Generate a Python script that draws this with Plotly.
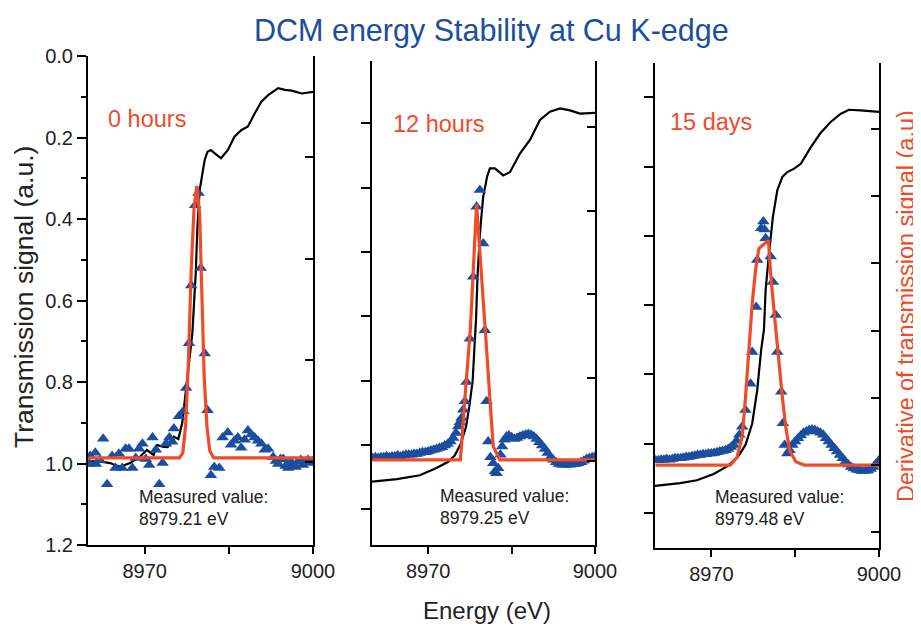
import plotly.graph_objects as go

# ---------------- data ----------------
# Panel 1: 0 hours
p1_t_e = [8960.0, 8960.3, 8962.0, 8963.8, 8965.6, 8967.4, 8969.2, 8970.4, 8971.6, 8972.2, 8973.4, 8974.1,
          8975.2, 8976.0, 8976.7, 8977.9, 8978.5, 8979.1, 8979.4, 8979.8, 8980.3, 8980.7, 8981.2, 8981.8,
          8982.6, 8983.6, 8984.8, 8986.0, 8987.2, 8988.4, 8989.6, 8990.8, 8992.0, 8993.8, 8995.0, 8996.2,
          8998.0, 9000.0]
p1_t_v = [0.99, 0.995, 0.995, 0.999, 1.008, 0.999, 0.983, 0.967, 0.979, 0.955, 0.959, 0.96,
          0.934, 0.94, 0.90, 0.754, 0.68, 0.533, 0.42, 0.329, 0.284, 0.255, 0.235, 0.231,
          0.24, 0.251, 0.231, 0.198, 0.182, 0.173, 0.141, 0.112, 0.096, 0.079, 0.083, 0.085,
          0.092, 0.088]
p1_d_e = [8960.2, 8960.3, 8961.2, 8961.3, 8962.0, 8962.6, 8963.3, 8964.2, 8964.8, 8965.4, 8966.0, 8966.6,
          8967.2, 8967.8, 8968.4, 8969.0, 8969.6, 8970.2, 8970.8, 8971.4, 8972.0, 8972.6, 8973.2, 8973.8,
          8974.4, 8974.9, 8975.2, 8976.1, 8976.9, 8977.4, 8977.9, 8978.3, 8979.0, 8979.6, 8980.0, 8980.7,
          8981.2, 8981.8, 8982.4, 8983.3, 8983.9, 8984.8, 8985.4, 8986.0, 8986.6, 8987.2, 8987.8, 8988.4,
          8989.0, 8989.6, 8990.2, 8990.8, 8991.4, 8992.0, 8992.9, 8993.4, 8993.8, 8994.2, 8994.7, 8995.1,
          8995.6, 8996.0, 8996.4, 8996.9, 8997.3, 8997.8, 8998.2, 8998.7, 8999.1, 8999.6, 9000.0]
p1_d_v = [-0.02, 0.06, 0.09, -0.02, 0.02, 0.23, -0.22, 0.06, -0.06, 0.08, -0.06, 0.13,
          0.13, -0.06, 0.04, 0.13, 0.18, 0.03, -0.03, 0.24, 0.12, -0.22, -0.01, 0.18,
          0.24, 0.20, 0.33, 0.45, 0.50, 0.73, 1.17, 1.74, 2.53, 2.65, 1.91, 1.07,
          0.51, -0.13, -0.05, -0.06, 0.24, 0.29, 0.17, 0.21, 0.24, 0.14, 0.22, 0.31,
          0.27, 0.24, 0.21, 0.18, 0.12, 0.13, 0.05, 0.01, -0.02, 0.03, 0.03, -0.04,
          -0.06, 0.0, -0.02, -0.05, 0.0, 0.02, -0.03, 0.0, 0.02, -0.01, 0.01]
p1_f_e = [8960.0, 8976.2, 8976.8, 8977.3, 8977.8, 8978.3, 8978.8, 8979.3, 8979.8, 8980.2, 8980.6, 8981.1,
          8981.6, 8982.3, 9000.0]
p1_f_v = [0.04, 0.04, 0.09, 0.36, 1.0, 1.9, 2.5, 2.72, 2.45, 1.6, 0.85, 0.35, 0.11, 0.04, 0.04]

# Panel 2: 12 hours
p2_t_e = [8959.9, 8964.4, 8968.5, 8971.4, 8973.6, 8974.8, 8975.9, 8976.8, 8977.4, 8978.0, 8978.3, 8978.6,
          8978.9, 8979.4, 8979.9, 8980.6, 8981.1, 8982.0, 8983.5, 8984.7, 8986.5, 8988.3, 8990.1, 8991.9,
          8993.7, 8995.5, 8997.3, 9000.0]
p2_t_v = [0.657, 0.653, 0.647, 0.636, 0.626, 0.616, 0.597, 0.572, 0.54, 0.50, 0.452, 0.406,
          0.333, 0.261, 0.214, 0.183, 0.170, 0.170, 0.181, 0.176, 0.147, 0.126, 0.095, 0.082,
          0.077, 0.080, 0.085, 0.084]
p2_d_e = [8960.0, 8960.5, 8961.0, 8961.5, 8962.0, 8962.5, 8963.0, 8963.5, 8964.0, 8964.5, 8965.0, 8965.5,
          8966.0, 8966.5, 8967.0, 8967.5, 8968.0, 8968.5, 8969.0, 8969.5, 8970.0, 8970.5, 8971.0, 8971.5,
          8972.0, 8972.5, 8973.0, 8973.5, 8974.0, 8974.5, 8975.0, 8975.4, 8975.7, 8976.0, 8976.3, 8976.6,
          8976.9, 8977.5, 8978.1, 8978.7, 8979.3, 8979.9, 8980.2, 8980.5, 8980.8, 8981.2, 8981.7, 8982.0,
          8982.3, 8982.6, 8983.0, 8983.3, 8983.7, 8984.1, 8984.5, 8985.0, 8985.5, 8986.0, 8986.5, 8987.0,
          8987.5, 8988.0, 8988.5, 8989.0, 8989.5, 8990.0, 8990.5, 8991.0, 8991.5, 8992.0, 8992.5, 8993.0,
          8993.5, 8994.0, 8994.5, 8995.0, 8995.5, 8996.0, 8996.5, 8997.0, 8997.5, 8998.0, 8998.5, 8999.0,
          8999.5, 9000.0]
p2_d_v = [0.04, 0.05, 0.04, 0.05, 0.05, 0.06, 0.05, 0.06, 0.06, 0.07, 0.06, 0.07,
          0.08, 0.08, 0.08, 0.09, 0.09, 0.10, 0.11, 0.11, 0.12, 0.13, 0.14, 0.15,
          0.16, 0.17, 0.19, 0.21, 0.24, 0.28, 0.34, 0.42, 0.47, 0.52, 0.62, 0.72,
          0.95, 1.47, 2.21, 3.05, 3.25, 2.61, 1.57, 0.72, 0.24, 0.05, -0.02, -0.12,
          -0.14, -0.08, 0.08, 0.18, 0.26, 0.30, 0.31, 0.29, 0.27, 0.28, 0.30, 0.31,
          0.32, 0.33, 0.32, 0.30, 0.27, 0.23, 0.19, 0.15, 0.10, 0.05, 0.02, -0.01,
          -0.03, -0.04, -0.04, -0.04, -0.04, -0.03, -0.03, -0.02, -0.01, 0.01, 0.03, 0.04,
          0.05, 0.06]
p2_f_e = [8960.0, 8975.8, 8976.6, 8977.6, 8978.7, 8979.5, 8980.4, 8981.1, 8981.7, 8982.9, 9000.0]
p2_f_v = [0.02, 0.02, 0.75, 1.6, 3.08, 2.35, 1.45, 0.75, 0.18, 0.02, 0.02]

# Panel 3: 15 days
p3_t_e = [8959.9, 8964.4, 8967.4, 8970.4, 8972.8, 8974.6, 8976.1, 8977.3, 8978.2, 8978.9, 8979.4, 8979.7,
          8980.3, 8981.0, 8981.8, 8982.7, 8983.6, 8984.8, 8986.0, 8987.8, 8989.5, 8991.3, 8993.1, 8994.6,
          8996.7, 9000.0]
p3_t_v = [0.661, 0.657, 0.653, 0.644, 0.633, 0.621, 0.602, 0.571, 0.523, 0.465, 0.436, 0.379,
          0.326, 0.273, 0.234, 0.215, 0.208, 0.203, 0.196, 0.172, 0.152, 0.136, 0.124, 0.118,
          0.119, 0.121]
p3_d_e = [8960.0, 8960.5, 8961.0, 8961.5, 8962.0, 8962.5, 8963.0, 8963.5, 8964.0, 8964.5, 8965.0, 8965.5,
          8966.0, 8966.5, 8967.0, 8967.5, 8968.0, 8968.5, 8969.0, 8969.5, 8970.0, 8970.5, 8971.0, 8971.5,
          8972.0, 8972.5, 8973.0, 8973.5, 8974.0, 8974.5, 8975.0, 8975.5, 8976.1, 8977.0, 8977.3, 8978.0,
          8978.2, 8978.9, 8979.3, 8979.5, 8979.7, 8980.6, 8981.0, 8981.5, 8981.8, 8982.5, 8982.8, 8983.1,
          8983.6, 8984.0, 8984.5, 8985.0, 8985.5, 8986.0, 8986.5, 8987.0, 8987.5, 8988.0, 8988.5, 8989.0,
          8989.5, 8990.0, 8990.5, 8991.0, 8991.5, 8992.0, 8992.5, 8993.0, 8993.5, 8994.0, 8994.5, 8995.0,
          8995.5, 8996.0, 8996.5, 8997.0, 8997.5, 8998.0, 8998.5, 8999.0, 8999.5, 9000.0]
p3_d_v = [0.07, 0.07, 0.08, 0.08, 0.09, 0.08, 0.09, 0.10, 0.10, 0.10, 0.11, 0.12,
          0.12, 0.13, 0.14, 0.15, 0.15, 0.16, 0.16, 0.17, 0.17, 0.18, 0.19, 0.20,
          0.21, 0.22, 0.24, 0.27, 0.30, 0.36, 0.45, 0.57, 0.82, 1.21, 1.68, 2.35,
          3.05, 3.52, 3.62, 3.50, 3.37, 3.10, 2.72, 2.23, 1.68, 1.09, 0.62, 0.30,
          0.17, 0.22, 0.30, 0.35, 0.40, 0.44, 0.48, 0.50, 0.52, 0.53, 0.52, 0.50,
          0.48, 0.45, 0.40, 0.35, 0.30, 0.25, 0.20, 0.15, 0.10, 0.05, 0.01, -0.03,
          -0.05, -0.07, -0.08, -0.09, -0.09, -0.08, -0.06, -0.03, 0.02, 0.07]
p3_f_e = [8960.0, 8973.4, 8974.6, 8975.5, 8976.1, 8976.7, 8977.3, 8977.9, 8978.5, 8980.2, 8980.6, 8981.2,
          8981.8, 8982.7, 8983.3, 8984.0, 8985.1, 8986.6, 9000.0]
p3_f_v = [0.0, 0.0, 0.12, 0.42, 1.0, 1.75, 2.4, 2.9, 3.22, 3.34, 2.85, 2.3,
          1.76, 1.01, 0.57, 0.22, 0.05, 0.0, 0.0]

panel_labels = ["0 hours", "12 hours", "15 days"]
measured = ["8979.21 eV", "8979.25 eV", "8979.48 eV"]
x_tickvals = [8970, 8985, 9000]
x_ticktext = ["8970", "", "9000"]
left_tickvals_p1 = [0.0, 0.2, 0.4, 0.6, 0.8, 1.0, 1.2]
left_ticktext_p1 = ["0.0", "0.2", "0.4", "0.6", "0.8", "1.0", "1.2"]

title_text = "DCM energy Stability at Cu K-edge"
xlabel = "Energy (eV)"
ylabel_left = "Transmission signal (a.u.)"
ylabel_right = "Derivative of transmission signal (a.u)"

# ---------------- styling ----------------
# The page body keeps its default 8px margin, so the figure is made 8px smaller
# and every position is given in window pixels and shifted by that margin.
OFF = 8
W, H = 921 - OFF, 626 - OFF
FONT = "Liberation Sans, Arial, sans-serif"
BLUE = "#1b4e9e"
RED = "#f04b28"
TXT = "#222222"


def fx(p):
    return (p - OFF) / W


def fy(p):
    return 1 - (p - OFF) / H


# pixel frames of each panel in window pixels: (left, right, top, bottom)
frames = [(88, 313, 56, 545), (372, 595, 61, 545), (655, 879, 63, 548)]
xrange_ = [8959.9, 9000]
left_ranges = [[1.2, 0.0], [0.7553, 0.0033], [0.7508, 0.0505]]
right_ranges = [[-0.818, 4.0], [-1.0, 4.794], [-1.233, 5.977]]

data = [
    (p1_t_e, p1_t_v, p1_d_e, p1_d_v, p1_f_e, p1_f_v),
    (p2_t_e, p2_t_v, p2_d_e, p2_d_v, p2_f_e, p2_f_v),
    (p3_t_e, p3_t_v, p3_d_e, p3_d_v, p3_f_e, p3_f_v),
]

fig = go.Figure()
layout = dict(
    template="none",
    width=W, height=H, autosize=False, margin=dict(l=0, r=0, t=0, b=0, pad=0, autoexpand=False),
    paper_bgcolor="white", plot_bgcolor="rgba(0,0,0,0)", showlegend=False,
    font=dict(family=FONT, color=TXT),
)

axis_common = dict(showline=True, linecolor="black", linewidth=2, showgrid=False, zeroline=False,
                   tickcolor="black", tickwidth=2, automargin=False)

annotations = []
for i in range(3):
    L, R, T, B = frames[i]
    xb = f"x{i + 1}"
    yl = f"y{2 * i + 1}"
    yr = f"y{2 * i + 2}"
    xkey = "xaxis" if i == 0 else f"xaxis{i + 1}"
    xtkey = f"xaxis{i + 4}"
    ylkey = "yaxis" if i == 0 else f"yaxis{2 * i + 1}"
    yrkey = f"yaxis{2 * i + 2}"
    xdom = [fx(L), fx(R)]
    ydom = [fy(B), fy(T)]

    layout[xkey] = dict(axis_common, domain=xdom, range=xrange_, anchor=yl, tickmode="array",
                        tickvals=x_tickvals, ticktext=x_ticktext, ticks="outside", ticklen=7,
                        tickfont=dict(size=20, color=TXT, family=FONT))
    layout[xtkey] = dict(axis_common, domain=xdom, range=xrange_, anchor=yl, overlaying=xb, side="top",
                         tickmode="array", tickvals=x_tickvals, ticks="inside", ticklen=10,
                         showticklabels=False)
    if i == 0:
        layout[ylkey] = dict(axis_common, domain=ydom, range=left_ranges[i], anchor=xb, side="left",
                             tickmode="array", tickvals=left_tickvals_p1, ticktext=left_ticktext_p1,
                             ticks="outside", ticklen=9,
                             minor=dict(tickmode="array", tickvals=[0.1, 0.3, 0.5, 0.7, 0.9, 1.1],
                                        ticks="outside", ticklen=5, tickcolor="black", tickwidth=2),
                             tickfont=dict(size=20, color=TXT, family=FONT))
    else:
        layout[ylkey] = dict(axis_common, domain=ydom, range=left_ranges[i], anchor=xb, side="left",
                             tickmode="linear", tick0=0.0, dtick=0.1, ticks="outside", ticklen=9,
                             showticklabels=False)
    layout[yrkey] = dict(axis_common, domain=ydom, range=right_ranges[i], anchor=xb, overlaying=yl,
                         side="right", tickmode="linear", tick0=0, dtick=1, ticks="inside", ticklen=8,
                         showticklabels=False)

    te, tv, de, dv, fe, fv = data[i]
    fig.add_trace(go.Scatter(x=te, y=tv, mode="lines", line=dict(color="black", width=2.2),
                             xaxis=xb, yaxis=yl, hoverinfo="skip"))
    fig.add_trace(go.Scatter(x=de, y=dv, mode="markers",
                             marker=dict(symbol="triangle-up", size=11, color=BLUE, line=dict(width=0)),
                             xaxis=xb, yaxis=yr, hoverinfo="skip"))
    fig.add_trace(go.Scatter(x=fe, y=fv, mode="lines", line=dict(color=RED, width=3.2),
                             xaxis=xb, yaxis=yr, hoverinfo="skip"))

label_pos = [(106, 119), (391, 124), (668, 122)]
meas_pos = [(137, 497), (438, 496), (713, 497)]
for i in range(3):
    lx, ly = label_pos[i]
    annotations.append(dict(x=fx(lx), y=fy(ly), xref="paper", yref="paper", xanchor="left",
                            yanchor="middle", text=panel_labels[i], showarrow=False,
                            font=dict(size=23.5, color=RED, family=FONT)))
    mx, my = meas_pos[i]
    annotations.append(dict(x=fx(mx), y=fy(my), xref="paper", yref="paper", xanchor="left",
                            yanchor="middle", text="Measured value:", showarrow=False,
                            font=dict(size=17.5, color=TXT, family=FONT)))
    annotations.append(dict(x=fx(mx), y=fy(my + 22), xref="paper", yref="paper", xanchor="left",
                            yanchor="middle", text=measured[i], showarrow=False,
                            font=dict(size=17.5, color=TXT, family=FONT)))

annotations.append(dict(x=fx(491), y=fy(30), xref="paper", yref="paper", xanchor="center",
                        yanchor="middle", text=title_text, showarrow=False,
                        font=dict(size=30.5, color=BLUE, family=FONT)))
annotations.append(dict(x=fx(487), y=fy(610), xref="paper", yref="paper", xanchor="center",
                        yanchor="middle", text=xlabel, showarrow=False,
                        font=dict(size=24, color=TXT, family=FONT)))
annotations.append(dict(x=fx(24), y=fy(297), xref="paper", yref="paper", xanchor="center",
                        yanchor="middle", text=ylabel_left, showarrow=False, textangle=-90,
                        font=dict(size=26.5, color=TXT, family=FONT)))
annotations.append(dict(x=fx(906), y=fy(306), xref="paper", yref="paper", xanchor="center",
                        yanchor="middle", text=ylabel_right, showarrow=False, textangle=-90,
                        font=dict(size=23.5, color=RED, family=FONT)))

layout["annotations"] = annotations
fig.update_layout(**layout)
fig.write_html("out.html")
